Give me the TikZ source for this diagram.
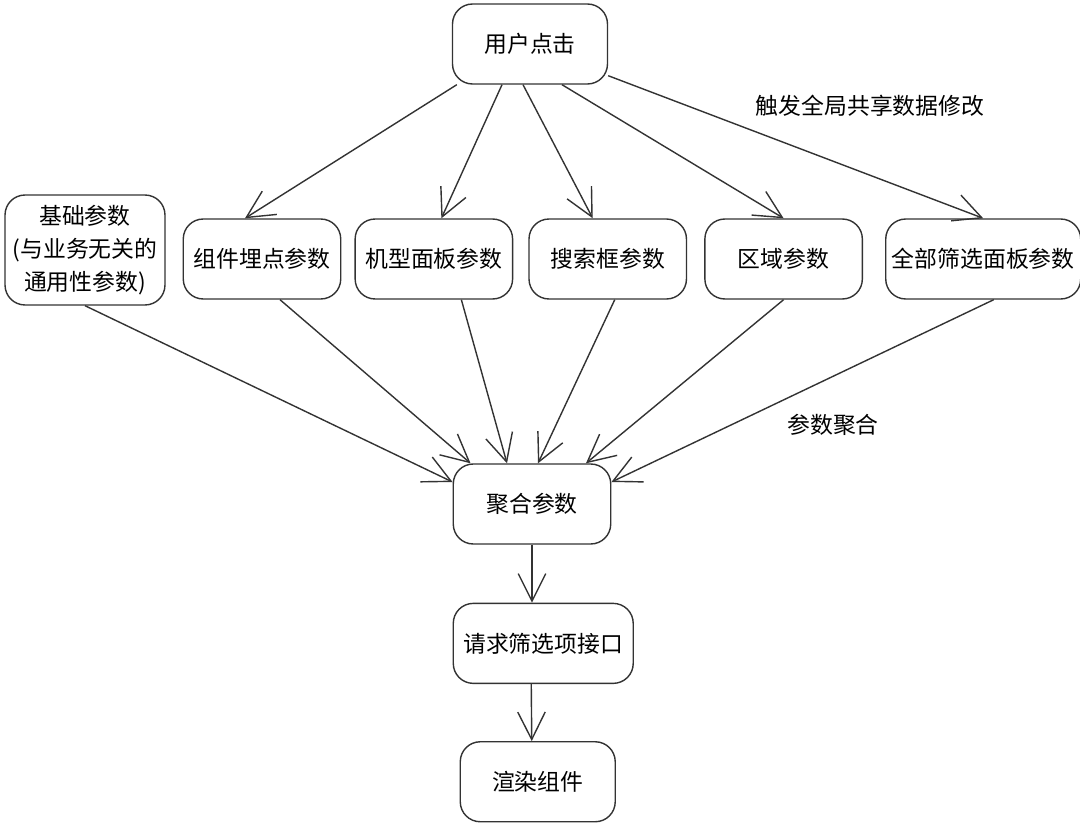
\documentclass[tikz,border=0pt]{standalone}
\usepackage{fontspec}
\newfontfamily\cjk{Noto Sans CJK SC}
\usetikzlibrary{arrows.meta,positioning}

\begin{document}
\begin{tikzpicture}[
  x=0.02cm, y=-0.02cm,
  box/.style={rectangle, draw=black!80, line width=0.8pt, rounded corners=0.4cm, minimum width=3.15cm, minimum height=1.6cm, align=center, font=\cjk\fontsize{13}{19}\selectfont},
  lbl/.style={font=\cjk\fontsize{13}{16}\selectfont},
  arr/.style={-{Straight Barb[length=5.5mm, width=5.5mm]}, line width=0.8pt, draw=black!80}
]
\useasboundingbox (0,0) rectangle (1080,828);
\node[box, minimum width=3.1cm] (click) at (530,44) {用户点击};
\node[box, minimum width=3.2cm, minimum height=2.2cm, inner sep=2pt] (base) at (85,250) {基础参数\\(与业务无关的\\通用性参数)};
\node[box] (comp) at (262,259) {组件埋点参数};
\node[box, right=0.26cm of comp] (model) {机型面板参数};
\node[box, right=0.3cm of model] (search) {搜索框参数};
\node[box, right=0.34cm of search] (region) {区域参数};
\node[box, minimum width=3.9cm, right=0.44cm of region] (all) {全部筛选面板参数};
\node[box] (agg) at (532,504) {聚合参数};
\node[box, minimum width=3.6cm, below=1.16cm of agg.south west, anchor=north west] (req) {请求筛选项接口};
\node[box, minimum width=3.1cm, below=1.14cm of req.south west, anchor=north west, xshift=0.14cm] (render) {渲染组件};
\node[lbl] (trig) at (870,106) {触发全局共享数据修改};
\node[lbl] (agglbl) at (833,425) {参数聚合};
% user click fans out
\draw[arr] ([xshift=0.1cm]click.south west) -- ([xshift=-0.34cm]comp.north);
\draw[arr] ([xshift=-0.56cm]click.south) -- ([xshift=0.15cm]model.north);
\draw[arr] ([xshift=-0.14cm]click.south) -- ([xshift=-0.3cm]search.north);
\draw[arr] ([xshift=0.64cm]click.south) -- (region.north);
\draw[arr] ([yshift=0.18cm]click.south east) -- (all.north);
% parameters gathered
\draw[arr] (base.south) -- ([yshift=0.44cm]agg.west);
\draw[arr] ([xshift=0.36cm]comp.south) -- ([xshift=0.36cm]agg.north west);
\draw[arr] ([xshift=0.55cm]model.south) -- ([xshift=-0.5cm]agg.north);
\draw[arr] ([xshift=0.14cm]search.south) -- ([xshift=0.12cm]agg.north);
\draw[arr] (region.south) -- ([xshift=1.08cm]agg.north);
\draw[arr] ([xshift=0.21cm]all.south) -- ([yshift=0.44cm]agg.east);
\draw[arr] (agg.south) -- (agg.south |- req.north);
\draw[arr] ([xshift=-0.24cm]req.south) -- ([xshift=-0.12cm]render.north);
\end{tikzpicture}
\end{document}
